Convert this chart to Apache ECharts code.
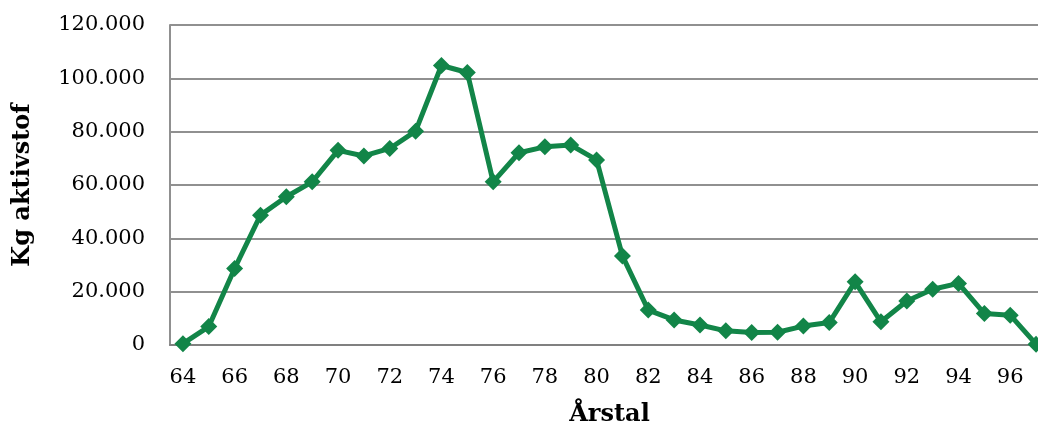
<!DOCTYPE html>
<html>
<head>
<meta charset="utf-8">
<script src="https://cdn.jsdelivr.net/npm/echarts@6/dist/echarts.min.js"></script>
<style>
  html, body { margin: 0; padding: 0; background: #fff; }
  #chart { width: 1038px; height: 425px; }
</style>
</head>
<body>
<div id="chart"></div>
<script>
// Årstal (19xx)
const years = ['64', '65', '66', '67', '68', '69', '70', '71', '72', '73', '74',
  '75', '76', '77', '78', '79', '80', '81', '82', '83', '84', '85', '86', '87',
  '88', '89', '90', '91', '92', '93', '94', '95', '96', '97']

// Kg aktivstof pr. år
const kgAktivstof = [500, 6900, 28700, 48700, 55600, 61200, 73000, 70900, 73700,
  80200, 104800, 102200, 61200, 72100, 74300, 75000, 69400, 33400, 13100, 9400,
  7500, 5300, 4700, 4800, 7100, 8400, 23700, 8700, 16500, 20900, 23100, 11800,
  11200, 300]

const yTicks = { min: 0, max: 120000, interval: 20000 }

const fontFamily = '"DejaVu Serif", serif'
const green = '#128548'

const chart = echarts.init(document.getElementById('chart'))

const option = {
  animation: false,
  grid: {
    left: 170,
    right: -11,
    top: 25,
    bottom: 80,
    containLabel: false,
    outerBoundsMode: 'none'
  },
  xAxis: {
    type: 'category',
    data: years,
    boundaryGap: true,
    name: 'Årstal',
    nameLocation: 'middle',
    nameGap: 58,
    nameTextStyle: {
      fontFamily: fontFamily,
      fontWeight: 'bold',
      fontSize: 24,
      color: '#000'
    },
    axisLine: { lineStyle: { color: '#808080', width: 2 } },
    axisTick: { show: false },
    axisLabel: {
      interval: 1,
      margin: 22,
      fontFamily: fontFamily,
      fontSize: 21,
      color: '#000'
    }
  },
  yAxis: {
    type: 'value',
    min: yTicks.min,
    max: yTicks.max,
    interval: yTicks.interval,
    name: 'Kg aktivstof',
    nameLocation: 'middle',
    nameGap: 135,
    nameTextStyle: {
      fontFamily: fontFamily,
      fontWeight: 'bold',
      fontSize: 24,
      color: '#000'
    },
    axisLine: { show: true, lineStyle: { color: '#909090', width: 2 } },
    axisTick: { show: false },
    splitLine: { lineStyle: { color: '#909090', width: 2 } },
    axisLabel: {
      margin: 25,
      fontFamily: fontFamily,
      fontSize: 21,
      color: '#000',
      formatter: function (v) {
        return v.toLocaleString('da-DK').replace(/,/g, '.')
      }
    }
  },
  series: [{
    type: 'line',
    data: kgAktivstof,
    symbol: 'diamond',
    symbolSize: 17,
    lineStyle: { color: green, width: 5 },
    itemStyle: { color: green },
    clip: false
  }]
}

chart.setOption(option)
</script>
</body>
</html>
